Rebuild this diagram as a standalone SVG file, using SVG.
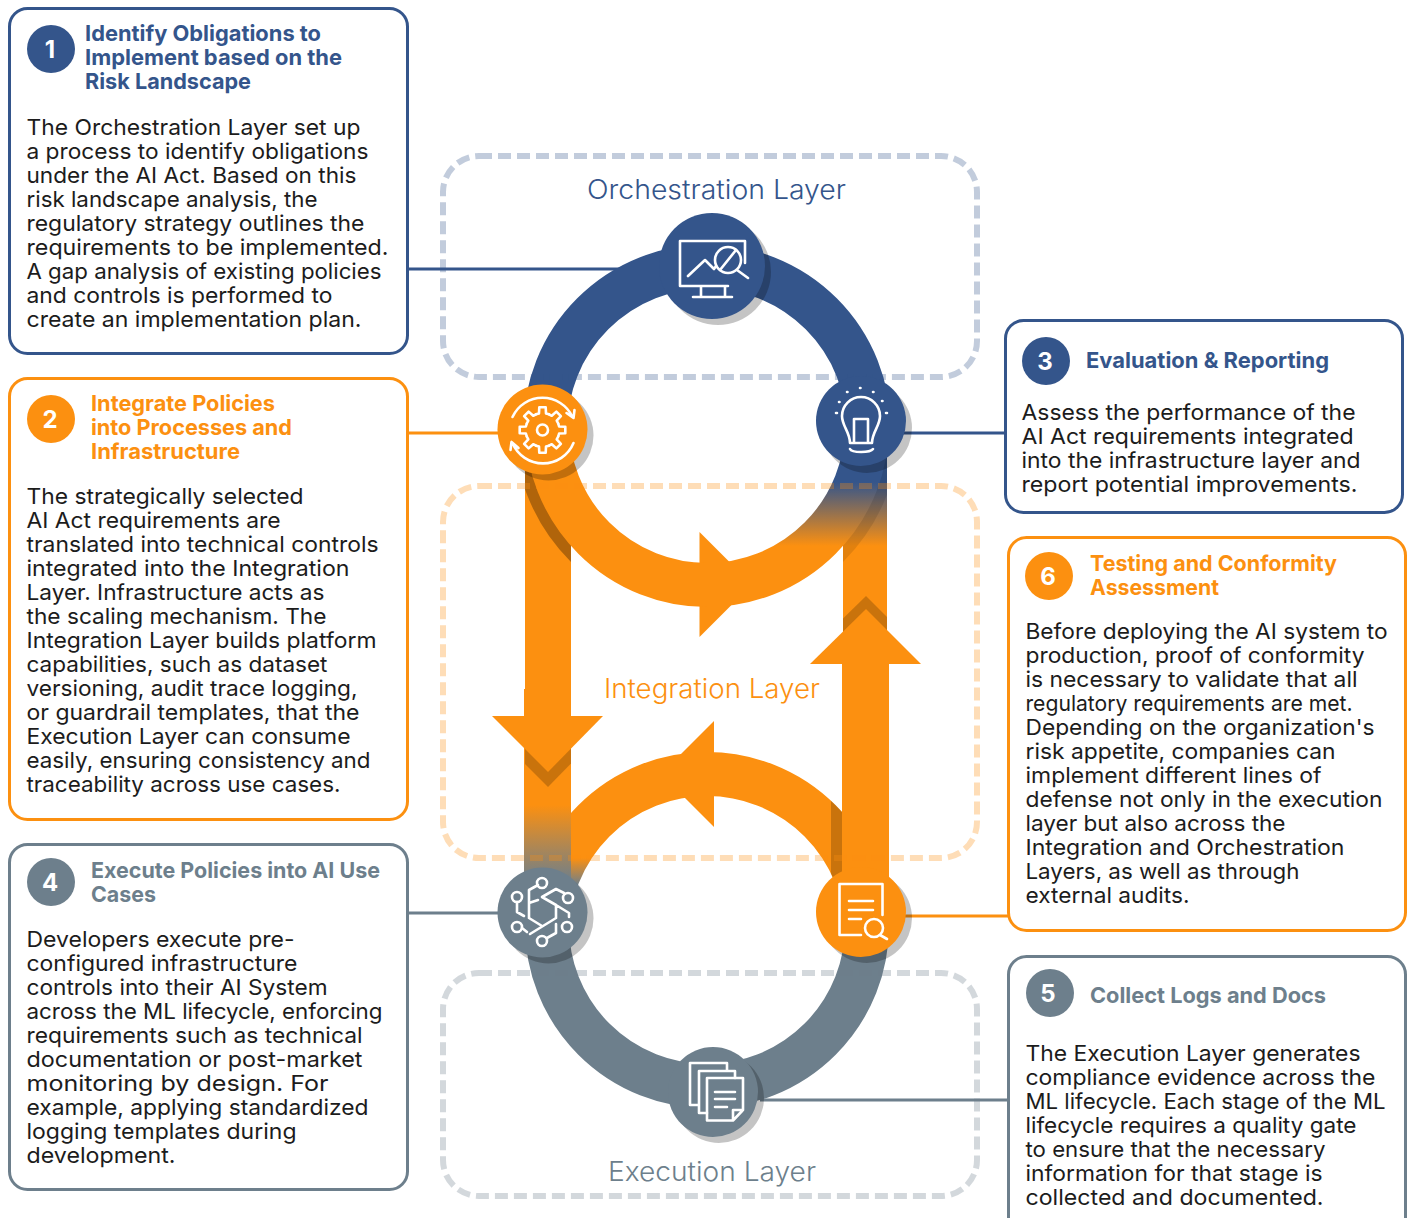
<svg xmlns="http://www.w3.org/2000/svg" width="1413" height="1218" viewBox="0 0 1413 1218">
<style>
text{font-family:Inter,"Liberation Sans",sans-serif}
.b{font-size:22px;fill:#1c1c1c;transform:translate(-.5px,-.8px)}
.t{font-size:22px;font-weight:700}
.n{font-size:24px;font-weight:700;fill:#fff;text-anchor:middle}
.l{font-size:27px;font-weight:300}
.box{fill:#fff;stroke-width:3}
.blue{stroke:#34558B}.org{stroke:#FC9010}.gry{stroke:#6D7F8C}
.fb{fill:#34558B}.fo{fill:#FC9010}.fg{fill:#6D7F8C}
.dash{fill:none;stroke-width:6;stroke-dasharray:13 6;opacity:.3}
.ln{fill:none;stroke-width:3}
.ring{fill:none;stroke-width:44}
.ic{fill:none;stroke:#fff;stroke-width:2.6;stroke-linecap:round;stroke-linejoin:round}
.sh{fill:#000;opacity:.23}
</style>
<defs>
<linearGradient id="gBO" gradientUnits="userSpaceOnUse" x1="0" y1="482" x2="0" y2="546"><stop offset="0" stop-color="#34558B"/><stop offset="1" stop-color="#FC9010"/></linearGradient>
<linearGradient id="gOG" gradientUnits="userSpaceOnUse" x1="0" y1="805" x2="0" y2="882"><stop offset="0" stop-color="#FC9010"/><stop offset="1" stop-color="#6D7F8C"/></linearGradient>
<linearGradient id="gOG2" gradientUnits="userSpaceOnUse" x1="0" y1="858" x2="0" y2="885"><stop offset="0" stop-color="#FC9010"/><stop offset="1" stop-color="#6D7F8C"/></linearGradient>
<clipPath id="cL"><rect x="525" y="470" width="46" height="320"/></clipPath>
<clipPath id="cLT"><rect x="525" y="470" width="46" height="110"/></clipPath>
<clipPath id="cR"><rect x="843" y="455" width="44" height="190"/></clipPath>
<clipPath id="cS"><rect x="831" y="790" width="11" height="100"/></clipPath>
<path id="tooth" d="M-6.5-15.7L-3.5-16.6L-3.2-22.8L3.2-22.8L3.5-16.6L6.5-15.7"/>
</defs>

<g id="layers-back">
<text class="l fb" x="587" y="199" textLength="259" lengthAdjust="spacingAndGlyphs">Orchestration Layer</text>
<text class="l fo" x="604" y="698" textLength="216" lengthAdjust="spacingAndGlyphs">Integration Layer</text>
<text class="l fg" x="608" y="1181" textLength="208" lengthAdjust="spacingAndGlyphs">Execution Layer</text>
</g>

<g id="connectors">
<path class="ln blue" d="M408 269H620"/>
<path class="ln org" d="M408 433H500"/>
<path class="ln blue" d="M900 433H1005"/>
<path class="ln gry" d="M408 913H500"/>
<path class="ln gry" d="M760 1100H1008"/>
<path class="ln org" d="M900 916H1008"/>
</g>

<g id="flows">
<path class="ring blue" d="M545.400 428A161.600 161.600 0 0 1 868.600 428"/>
<path class="ring gry" d="M547 926A160 160 0 0 0 867 926"/>
<!-- lower orange arc -->
<path class="ring" style="stroke:url(#gOG2)" d="M547 934A160 160 0 0 1 707 774"/>
<path class="ring org" d="M707 774A160 160 0 0 1 867 934"/>
<path class="ring" style="stroke:#000;opacity:.2" clip-path="url(#cS)" d="M707 774A160 160 0 0 1 867 934"/>
<polygon class="fo" points="714,721 661,774 714,827"/>
<!-- left bar -->
<rect x="525" y="470" width="46" height="220" class="fo"/>
<rect x="524" y="689" width="47" height="195" fill="url(#gOG)"/>
<polygon points="492,731 548,787 603,731" opacity=".2" clip-path="url(#cL)"/>
<polygon class="fo" points="492,716 548,772 603,716"/>
<!-- right bar -->
<rect x="843" y="455" width="44" height="200" fill="url(#gBO)"/>
<polygon points="810,651 866,596 921,651" opacity=".2" clip-path="url(#cR)"/>
<rect x="842" y="655" width="47" height="230" class="fo"/>
<polygon class="fo" points="810,664 866,609 921,664"/>
<!-- upper orange arc -->
<path class="ring" style="stroke-width:12;stroke:#000;opacity:.3" clip-path="url(#cLT)" d="M520 425A187 187 0 0 0 707 612"/>
<path class="ring" style="stroke-width:12;stroke:#000;opacity:.1" clip-path="url(#cR)" d="M707 612A187 187 0 0 0 894 425"/>
<polygon class="fo" points="699.500,532 752,584.500 699.500,637"/>
<path class="ring org" d="M547 425A160 160 0 0 0 707 585"/>
<path class="ring" style="stroke:url(#gBO)" d="M707 585A160 160 0 0 0 867 425"/>
</g>

<g id="layer-frames">
<rect class="dash blue" x="443" y="156" width="534" height="221" rx="36"/>
<rect class="dash org" x="443" y="486" width="534" height="372" rx="36"/>
<rect class="dash gry" x="443" y="973" width="534" height="223" rx="36"/>
</g>

<g id="node-monitor">
<circle class="sh" cx="718" cy="272" r="53"/><circle class="fb" cx="712" cy="266" r="53"/>
<path class="ic" d="M728 286H680V241H745V263M701 286V297M725 286V297M693 297H732M688 276L705 260L714 269L716 266"/>
<circle class="ic" cx="728" cy="260" r="13"/><path class="ic" d="M720 270L736 250M737 270L748 278"/>
</g>
<g id="node-gear">
<circle class="sh" cx="548.500" cy="435.500" r="45"/><circle class="fo" cx="542.500" cy="429.500" r="45"/>
<g class="ic" transform="translate(542.500 430)">
<use href="#tooth"/><use href="#tooth" transform="rotate(45)"/><use href="#tooth" transform="rotate(90)"/><use href="#tooth" transform="rotate(135)"/><use href="#tooth" transform="rotate(180)"/><use href="#tooth" transform="rotate(225)"/><use href="#tooth" transform="rotate(270)"/><use href="#tooth" transform="rotate(315)"/>
<circle r="5.500"/>
<path d="M-30-13A33 33 0 0 1 30-13M24-17L31-12L32-20M31 13A33 33 0 0 1-30 13M-24 18L-31 12L-32 20"/>
</g>
</g>
<g id="node-bulb">
<circle class="sh" cx="867" cy="428" r="45"/><circle class="fb" cx="861" cy="421" r="45"/>
<path class="ic" d="M850 443C850 432 842 426 842 416A19 19 0 0 1 880 416C880 426 872 432 872 443H850ZM854 443V419H868V443M850 449C852 453 870 453 873 449"/>
<g class="ic" stroke-width="3"><path d="M836 413h1M839 402h.5M847 392h.5M860 388h.5M873 392h.5M882 401h.5M886 413h1"/></g>
</g>
<g id="node-circuit">
<circle class="sh" cx="548.500" cy="918.500" r="45"/><circle class="fg" cx="542.500" cy="912.500" r="45"/>
<g class="ic">
<circle cx="542" cy="883" r="5"/><circle cx="517" cy="897" r="5"/><circle cx="568" cy="898" r="5"/><circle cx="517" cy="927" r="5"/><circle cx="567" cy="927" r="5"/><circle cx="542" cy="941" r="5"/>
<path d="M538 885L529 890V918L542 926M529 903L538 900M542 897L556 889L564 893M542 897L556 905V918L530 934M556 905L569 913V917M517 902V912L524 916M522 928L527 932M547 938L556 933V924"/>
</g>
</g>
<g id="node-docs">
<circle class="sh" cx="719" cy="1098" r="45"/><circle class="fg" cx="713" cy="1092" r="45"/>
<g class="ic">
<path d="M699 1105H690V1063H727V1070M707 1113H699V1071H735V1078"/>
<path d="M707 1078H743V1110L733 1120.500H707ZM743 1110H733V1120"/>
<path d="M715 1092H735M715 1099H735M715 1107H727"/>
</g>
</g>
<g id="node-audit">
<circle class="sh" cx="867" cy="918" r="45"/><circle class="fo" cx="861" cy="912" r="45"/>
<g class="ic">
<path d="M861 935H839.500V884H882.500V915M849 901H873M849 910H873M849 919H861"/>
<circle cx="874" cy="928" r="9"/><path d="M880 935L887 939"/>
</g>
</g>

<g id="card-1">
<rect class="box blue" x="9.500" y="8.500" width="398" height="345" rx="18"/>
<circle class="fb" cx="51" cy="49" r="24"/><text class="n" x="50" y="58">1</text>
<g class="t fb">
<text x="85" y="41" textLength="236" lengthAdjust="spacingAndGlyphs">Identify Obligations to</text>
<text x="85" y="65" textLength="257" lengthAdjust="spacingAndGlyphs">Implement based on the</text>
<text x="85" y="89" textLength="166" lengthAdjust="spacingAndGlyphs">Risk Landscape</text>
</g>
<g class="b">
<text x="27" y="136" textLength="334" lengthAdjust="spacingAndGlyphs">The Orchestration Layer set up</text>
<text x="27" y="160" textLength="342" lengthAdjust="spacingAndGlyphs">a process to identify obligations</text>
<text x="27" y="184" textLength="330" lengthAdjust="spacingAndGlyphs">under the AI Act. Based on this</text>
<text x="27" y="208" textLength="291" lengthAdjust="spacingAndGlyphs">risk landscape analysis, the</text>
<text x="27" y="232" textLength="338" lengthAdjust="spacingAndGlyphs">regulatory strategy outlines the</text>
<text x="27" y="256" textLength="362" lengthAdjust="spacingAndGlyphs">requirements to be implemented.</text>
<text x="27" y="280" textLength="355" lengthAdjust="spacingAndGlyphs">A gap analysis of existing policies</text>
<text x="27" y="304" textLength="306" lengthAdjust="spacingAndGlyphs">and controls is performed to</text>
<text x="27" y="328" textLength="335" lengthAdjust="spacingAndGlyphs">create an implementation plan.</text>
</g>
</g>

<g id="card-2">
<rect class="box org" x="9.500" y="378.500" width="398" height="441" rx="18"/>
<circle class="fo" cx="51" cy="419" r="24"/><text class="n" x="50" y="428">2</text>
<g class="t fo">
<text x="91" y="411" textLength="184" lengthAdjust="spacingAndGlyphs">Integrate Policies</text>
<text x="91" y="435" textLength="201" lengthAdjust="spacingAndGlyphs">into Processes and</text>
<text x="91" y="459" textLength="149" lengthAdjust="spacingAndGlyphs">Infrastructure</text>
</g>
<g class="b">
<text x="27" y="505" textLength="277" lengthAdjust="spacingAndGlyphs">The strategically selected</text>
<text x="27" y="529" textLength="254" lengthAdjust="spacingAndGlyphs">AI Act requirements are</text>
<text x="27" y="553" textLength="352" lengthAdjust="spacingAndGlyphs">translated into technical controls</text>
<text x="27" y="577" textLength="323" lengthAdjust="spacingAndGlyphs">integrated into the Integration</text>
<text x="27" y="601" textLength="298" lengthAdjust="spacingAndGlyphs">Layer. Infrastructure acts as</text>
<text x="27" y="625" textLength="300" lengthAdjust="spacingAndGlyphs">the scaling mechanism. The</text>
<text x="27" y="649" textLength="350" lengthAdjust="spacingAndGlyphs">Integration Layer builds platform</text>
<text x="27" y="673" textLength="301" lengthAdjust="spacingAndGlyphs">capabilities, such as dataset</text>
<text x="27" y="697" textLength="331" lengthAdjust="spacingAndGlyphs">versioning, audit trace logging,</text>
<text x="27" y="721" textLength="333" lengthAdjust="spacingAndGlyphs">or guardrail templates, that the</text>
<text x="27" y="745" textLength="324" lengthAdjust="spacingAndGlyphs">Execution Layer can consume</text>
<text x="27" y="769" textLength="344" lengthAdjust="spacingAndGlyphs">easily, ensuring consistency and</text>
<text x="27" y="793" textLength="314" lengthAdjust="spacingAndGlyphs">traceability across use cases.</text>
</g>
</g>

<g id="card-4">
<rect class="box gry" x="9.500" y="844.500" width="398" height="345" rx="18"/>
<circle class="fg" cx="51" cy="882" r="24"/><text class="n" x="50" y="891">4</text>
<g class="t fg">
<text x="91" y="878" textLength="289" lengthAdjust="spacingAndGlyphs">Execute Policies into AI Use</text>
<text x="91" y="902" textLength="65" lengthAdjust="spacingAndGlyphs">Cases</text>
</g>
<g class="b">
<text x="27" y="948" textLength="268" lengthAdjust="spacingAndGlyphs">Developers execute pre-</text>
<text x="27" y="972" textLength="271" lengthAdjust="spacingAndGlyphs">configured infrastructure</text>
<text x="27" y="996" textLength="301" lengthAdjust="spacingAndGlyphs">controls into their AI System</text>
<text x="27" y="1020" textLength="356" lengthAdjust="spacingAndGlyphs">across the ML lifecycle, enforcing</text>
<text x="27" y="1044" textLength="336" lengthAdjust="spacingAndGlyphs">requirements such as technical</text>
<text x="27" y="1068" textLength="336" lengthAdjust="spacingAndGlyphs">documentation or post-market</text>
<text x="27" y="1092" textLength="302" lengthAdjust="spacingAndGlyphs">monitoring by design. For</text>
<text x="27" y="1116" textLength="342" lengthAdjust="spacingAndGlyphs">example, applying standardized</text>
<text x="27" y="1140" textLength="270" lengthAdjust="spacingAndGlyphs">logging templates during</text>
<text x="27" y="1164" textLength="149" lengthAdjust="spacingAndGlyphs">development.</text>
</g>
</g>

<g id="card-3">
<rect class="box blue" x="1005.500" y="320.500" width="397" height="192" rx="18"/>
<circle class="fb" cx="1046" cy="361" r="24"/><text class="n" x="1045" y="370">3</text>
<text class="t fb" x="1086" y="368" textLength="243" lengthAdjust="spacingAndGlyphs">Evaluation &amp; Reporting</text>
<g class="b">
<text x="1022" y="421" textLength="334" lengthAdjust="spacingAndGlyphs">Assess the performance of the</text>
<text x="1022" y="445" textLength="332" lengthAdjust="spacingAndGlyphs">AI Act requirements integrated</text>
<text x="1022" y="469" textLength="339" lengthAdjust="spacingAndGlyphs">into the infrastructure layer and</text>
<text x="1022" y="493" textLength="336" lengthAdjust="spacingAndGlyphs">report potential improvements.</text>
</g>
</g>

<g id="card-6">
<rect class="box org" x="1008.500" y="537.500" width="397" height="393" rx="18"/>
<circle class="fo" cx="1049" cy="576" r="24"/><text class="n" x="1048" y="585">6</text>
<g class="t fo">
<text x="1090" y="571" textLength="247" lengthAdjust="spacingAndGlyphs">Testing and Conformity</text>
<text x="1090" y="595" textLength="129" lengthAdjust="spacingAndGlyphs">Assessment</text>
</g>
<g class="b">
<text x="1026" y="640" textLength="362" lengthAdjust="spacingAndGlyphs">Before deploying the AI system to</text>
<text x="1026" y="664" textLength="339" lengthAdjust="spacingAndGlyphs">production, proof of conformity</text>
<text x="1026" y="688" textLength="332" lengthAdjust="spacingAndGlyphs">is necessary to validate that all</text>
<text x="1026" y="712" textLength="327" lengthAdjust="spacingAndGlyphs">regulatory requirements are met.</text>
<text x="1026" y="736" textLength="349" lengthAdjust="spacingAndGlyphs">Depending on the organization's</text>
<text x="1026" y="760" textLength="310" lengthAdjust="spacingAndGlyphs">risk appetite, companies can</text>
<text x="1026" y="784" textLength="296" lengthAdjust="spacingAndGlyphs">implement different lines of</text>
<text x="1026" y="808" textLength="357" lengthAdjust="spacingAndGlyphs">defense not only in the execution</text>
<text x="1026" y="832" textLength="260" lengthAdjust="spacingAndGlyphs">layer but also across the</text>
<text x="1026" y="856" textLength="319" lengthAdjust="spacingAndGlyphs">Integration and Orchestration</text>
<text x="1026" y="880" textLength="274" lengthAdjust="spacingAndGlyphs">Layers, as well as through</text>
<text x="1026" y="904" textLength="164" lengthAdjust="spacingAndGlyphs">external audits.</text>
</g>
</g>

<g id="card-5">
<rect class="box gry" x="1008.500" y="956.500" width="397" height="290" rx="18"/>
<circle class="fg" cx="1050" cy="993" r="24"/><text class="n" x="1048" y="1002">5</text>
<text class="t fg" x="1090" y="1003" textLength="236" lengthAdjust="spacingAndGlyphs">Collect Logs and Docs</text>
<g class="b">
<text x="1026" y="1062" textLength="335" lengthAdjust="spacingAndGlyphs">The Execution Layer generates</text>
<text x="1026" y="1086" textLength="350" lengthAdjust="spacingAndGlyphs">compliance evidence across the</text>
<text x="1026" y="1110" textLength="360" lengthAdjust="spacingAndGlyphs">ML lifecycle. Each stage of the ML</text>
<text x="1026" y="1134" textLength="331" lengthAdjust="spacingAndGlyphs">lifecycle requires a quality gate</text>
<text x="1026" y="1158" textLength="300" lengthAdjust="spacingAndGlyphs">to ensure that the necessary</text>
<text x="1026" y="1182" textLength="297" lengthAdjust="spacingAndGlyphs">information for that stage is</text>
<text x="1026" y="1206" textLength="298" lengthAdjust="spacingAndGlyphs">collected and documented.</text>
</g>
</g>
</svg>
